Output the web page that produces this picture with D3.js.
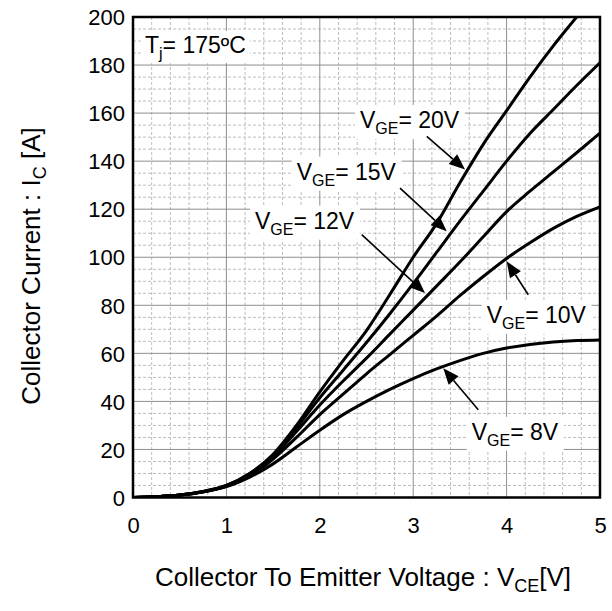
<!DOCTYPE html>
<html><head><meta charset="utf-8">
<script src="https://cdn.jsdelivr.net/npm/d3@7"></script>
<style>
body{margin:0;background:#fff;}
text{font-family:Arial,"Liberation Sans",sans-serif;fill:#000;}
</style></head>
<body>
<svg id="chart" width="612" height="611"></svg>
<script>
// ---- data ----
const vce   = [0, 0.5, 0.75, 1, 1.25, 1.5, 1.75, 2, 2.25, 2.5, 2.75, 3, 3.25, 3.5, 3.75, 4, 4.25, 4.5, 4.75, 5];
const ic20  = [0, 1, 2.5, 5, 10, 18, 30, 44, 57, 69.5, 84.5, 100, 114, 131, 147, 161, 175, 188, 200, null];
const ic15  = [0, 1, 2.5, 5, 10, 17.5, 29, 41.5, 53, 64.5, 76.5, 89, 102, 115, 127.5, 140, 151.5, 161.5, 171.5, 181];
const ic12  = [0, 1, 2.4, 4.8, 9.5, 17, 27.5, 38.5, 48.5, 58, 68, 78, 88, 98, 108.5, 119, 127.5, 135.5, 143.5, 151.7];
const ic10  = [0, 1, 2.4, 4.7, 9, 16, 25, 34.5, 43, 51.5, 59.5, 67.5, 75.5, 84, 92, 99.5, 106, 112, 117, 121];
const ic8   = [0, 1, 2.3, 4.5, 8.5, 14, 21, 28, 34.5, 40, 45, 49.5, 53.5, 57, 60, 62.2, 63.7, 64.7, 65.3, 65.6];
const seriesNames = ["20V", "15V", "12V", "10V", "8V"];
const seriesValues = [ic20, ic15, ic12, ic10, ic8];
const xTicks = [0, 1, 2, 3, 4, 5];
const yTicks = [0, 20, 40, 60, 80, 100, 120, 140, 160, 180, 200];

// ---- layout ----
const svg = d3.select("#chart");
const L = 133, R = 600, T = 17, B = 497.5;
const x = d3.scaleLinear().domain([0, 5]).range([L, R]);
const y = d3.scaleLinear().domain([0, 200]).range([B, T]);
const FONT = 22, AFONT = 23, TFONT = 26;

// minor grid
const g = svg.append("g");
g.selectAll("line.mx").data(d3.range(0, 5.001, 0.2).filter(v => Math.abs(v - Math.round(v)) > 1e-6))
  .join("line").attr("x1", d => x(d)).attr("x2", d => x(d)).attr("y1", T).attr("y2", B)
  .attr("stroke", "#bdbdbd").attr("stroke-width", 1).attr("stroke-dasharray", "3,2");
g.selectAll("line.my").data(d3.range(0, 200.001, 5).filter(v => v % 20 !== 0))
  .join("line").attr("x1", L).attr("x2", R).attr("y1", d => y(d)).attr("y2", d => y(d))
  .attr("stroke", "#bdbdbd").attr("stroke-width", 1).attr("stroke-dasharray", "3,2");
// major grid
g.append("g").selectAll("line").data(xTicks).join("line")
  .attr("x1", d => x(d)).attr("x2", d => x(d)).attr("y1", T).attr("y2", B)
  .attr("stroke", "#8f8f8f").attr("stroke-width", 1);
g.append("g").selectAll("line").data(yTicks).join("line")
  .attr("x1", L).attr("x2", R).attr("y1", d => y(d)).attr("y2", d => y(d))
  .attr("stroke", "#8f8f8f").attr("stroke-width", 1);

// axes tick labels
const xa = svg.append("g").attr("transform", `translate(0,${B})`)
  .call(d3.axisBottom(x).tickValues(xTicks).tickSize(0).tickPadding(20).tickFormat(d3.format("d")));
const ya = svg.append("g").attr("transform", `translate(${L},0)`)
  .call(d3.axisLeft(y).tickValues(yTicks).tickSize(0).tickPadding(8).tickFormat(d3.format("d")));
[xa, ya].forEach(a => { a.select(".domain").remove(); a.selectAll("text").attr("font-size", FONT).attr("font-family", "Arial, 'Liberation Sans', sans-serif").attr("fill", "#000"); });
ya.selectAll("text").attr("dy", "0.35em");

// curves
svg.append("clipPath").attr("id", "clip").append("rect").attr("x", L).attr("y", T).attr("width", R - L).attr("height", B - T);
const line = d3.line().defined(d => d[1] !== null).x(d => x(d[0])).y(d => y(d[1])).curve(d3.curveMonotoneX);
svg.append("g").attr("clip-path", "url(#clip)").selectAll("path").data(seriesValues).join("path")
  .attr("d", s => line(vce.map((v, i) => [v, s[i]])))
  .attr("fill", "none").attr("stroke", "#000").attr("stroke-width", 3).attr("stroke-linejoin", "round");

// frame
svg.append("rect").attr("x", L).attr("y", T).attr("width", R - L).attr("height", B - T)
  .attr("fill", "none").attr("stroke", "#000").attr("stroke-width", 2.5);

// annotations (positions in data units)
const annotations = [
  { name: "20V", tx: 2.43, ty: 153.8, from: [3.145, 150.3], to: [3.555, 136.5] },
  { name: "15V", tx: 1.753, ty: 132.3, from: [2.859, 128.8], to: [3.359, 110.8] },
  { name: "12V", tx: 1.306, ty: 111.9, from: [2.449, 109.4], to: [3.126, 85.1] },
  { name: "10V", tx: 3.787, ty: 72.7, from: [4.232, 84.4], to: [4.001, 98.3] },
  { name: "8V",  tx: 3.626, ty: 24.0, from: [3.697, 36.5], to: [3.322, 53.8] }
];
const ann = svg.append("g");
annotations.forEach(a => {
  const gt = ann.append("g");
  const t = gt.append("text").attr("x", x(a.tx)).attr("y", y(a.ty)).attr("font-size", AFONT);
  t.append("tspan").text("V");
  t.append("tspan").text("GE").attr("font-size", 16).attr("dy", 6);
  t.append("tspan").text("= " + a.name).attr("dy", -6);
  const bb = t.node().getBBox();
  gt.insert("rect", "text").attr("x", bb.x - 5).attr("y", bb.y - 2).attr("width", bb.width + 10).attr("height", bb.height + 4).attr("fill", "#fff");
  // arrow
  const x1 = x(a.from[0]), y1 = y(a.from[1]), x2 = x(a.to[0]), y2 = y(a.to[1]);
  const ang = Math.atan2(y2 - y1, x2 - x1), hl = 16, hw = 6.5;
  const bx = x2 - hl * Math.cos(ang), by = y2 - hl * Math.sin(ang);
  ann.append("line").attr("x1", x1).attr("y1", y1).attr("x2", bx).attr("y2", by).attr("stroke", "#000").attr("stroke-width", 1.6);
  ann.append("path").attr("d", `M${x2},${y2}L${bx + hw * Math.sin(ang)},${by - hw * Math.cos(ang)}L${bx - hw * Math.sin(ang)},${by + hw * Math.cos(ang)}Z`).attr("fill", "#000");
});

// Tj label
const tj = svg.append("g");
const tjt = tj.append("text").attr("x", x(0.128)).attr("y", y(185)).attr("font-size", AFONT);
tjt.append("tspan").text("T");
tjt.append("tspan").text("j").attr("font-size", 16).attr("dy", 6);
tjt.append("tspan").text("= 175ºC").attr("dy", -6);
const tb = tjt.node().getBBox();
tj.insert("rect", "text").attr("x", tb.x - 4).attr("y", tb.y - 1).attr("width", tb.width + 8).attr("height", tb.height + 2).attr("fill", "#fff");

// axis titles
const xt = svg.append("text").attr("x", 363).attr("y", 586).attr("text-anchor", "middle").attr("font-size", TFONT);
xt.append("tspan").text("Collector To Emitter Voltage : V");
xt.append("tspan").text("CE").attr("font-size", 18).attr("dy", 6);
xt.append("tspan").text("[V]").attr("dy", -6);
const yt = svg.append("text").attr("transform", `translate(40,266) rotate(-90)`).attr("text-anchor", "middle").attr("font-size", TFONT);
yt.append("tspan").text("Collector Current : I");
yt.append("tspan").text("C").attr("font-size", 18).attr("dy", 6);
yt.append("tspan").text(" [A]").attr("dy", -6);
</script>
</body></html>
